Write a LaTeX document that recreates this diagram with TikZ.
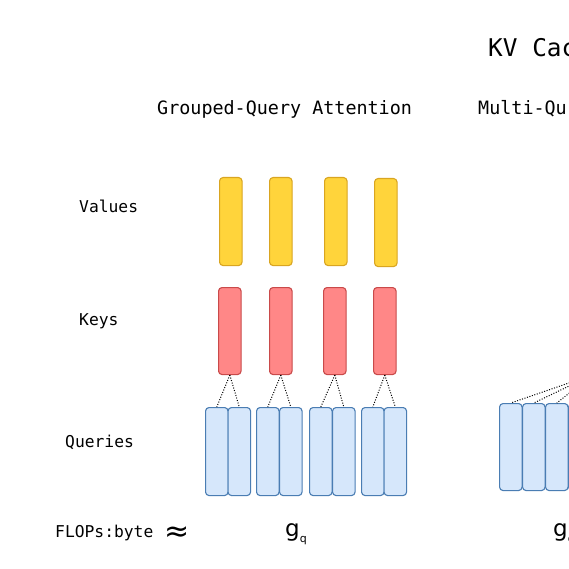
\documentclass[tikz,border=0pt]{standalone}
\usepackage{fontspec}
\newfontfamily\labelfont{DejaVu Sans Mono}
\newfontfamily\symfont{DejaVu Sans}
\definecolor{valfill}{HTML}{FFD43B}
\definecolor{valdraw}{HTML}{D9A521}
\definecolor{keyfill}{HTML}{FF8787}
\definecolor{keydraw}{HTML}{C94A4A}
\definecolor{qfill}{HTML}{D6E7FB}
\definecolor{qdraw}{HTML}{4A7DB3}

\begin{document}
\begin{tikzpicture}[x=1pt, y=-1pt,
  bar/.style={draw, rounded corners=3.5pt, line width=1.1pt, inner sep=0pt, anchor=north west, minimum width=22.5pt},
  valbar/.style={bar, fill=valfill, draw=valdraw, minimum height=88pt},
  keybar/.style={bar, fill=keyfill, draw=keydraw, minimum height=87pt},
  qbar/.style={bar, fill=qfill, draw=qdraw, minimum height=88pt},
  link/.style={line width=1pt, dash pattern=on 1pt off 1.6pt},
  rowlabel/.style={anchor=base west, inner sep=0pt, font=\labelfont\fontsize{16.3}{18}\selectfont},
  title/.style={anchor=base west, inner sep=0pt, font=\labelfont\fontsize{18.4}{20}\selectfont}]
	\useasboundingbox (0,0) rectangle (569,569);
	\fill[white] (0,0) rectangle (569,569);
	\clip (0,0) rectangle (569,569);

	\node [anchor=base west, inner sep=0pt, font=\labelfont\fontsize{24.4}{26}\selectfont] (kvtitle) at (488,57) {KV Cac};
	\node [title] (gqatitle) at (157,115) {Grouped-Query Attention};
	\node [title] (mqatitle) at (478,115) {Multi-Qu};

	\node [rowlabel] (vlabel) at (79,212) {Values};
	\node [rowlabel] (klabel) at (79,325) {Keys};
	\node [rowlabel] (qlabel) at (65,447) {Queries};
	\node [rowlabel] (flops) at (55,537) {FLOPs:byte};
	\node [anchor=base west, inner sep=0pt, font=\symfont\fontsize{30}{30}\selectfont] (approx) at (164,541) {≈};

	\node [valbar] (v1) at (219,177) {};
	\node [valbar] (v2) at (269,177) {};
	\node [valbar] (v3) at (324,177) {};
	\node [valbar] (v4) at (374,178) {};

	\node [keybar] (k1) at (218,287) {};
	\node [keybar] (k2) at (269,287) {};
	\node [keybar] (k3) at (323,287) {};
	\node [keybar] (k4) at (373,287) {};

	\foreach \i/\x in {1/205,2/227.5,3/256,4/279,5/309,6/332,7/361,8/383.5}
		\node [qbar] (q\i) at (\x,407) {};

	\draw [link] (k1.south) -- (q1.north);
	\draw [link] (k1.south) -- (q2.north);
	\draw [link] (k2.south) -- (q3.north);
	\draw [link] (k2.south) -- (q4.north);
	\draw [link] (k3.south) -- (q5.north);
	\draw [link] (k3.south) -- (q6.north);
	\draw [link] (k4.south) -- (q7.north);
	\draw [link] (k4.south) -- (q8.north);

	\node [valbar] (mv) at (580,177) {};
	\node [keybar] (mk) at (580,287) {};
	\foreach \i/\x in {1/499,2/522,3/545,4/568,5/591,6/614,7/637,8/660}
		\node [qbar, minimum height=87pt] (mq\i) at (\x,403) {};
	\foreach \i in {1,...,8}
		\draw [link] (mk.south) -- (mq\i.north);

	\node [anchor=base west, inner sep=0pt, font=\symfont\fontsize{23}{23}\selectfont] (gqaratio) at (285,536) {g\raisebox{-6pt}{\fontsize{11}{11}\selectfont q}};
	\node [anchor=base west, inner sep=0pt, font=\symfont\fontsize{23}{23}\selectfont] (mqaratio) at (553,536) {g\raisebox{-6pt}{\fontsize{11}{11}\selectfont q}};
\end{tikzpicture}
\end{document}
